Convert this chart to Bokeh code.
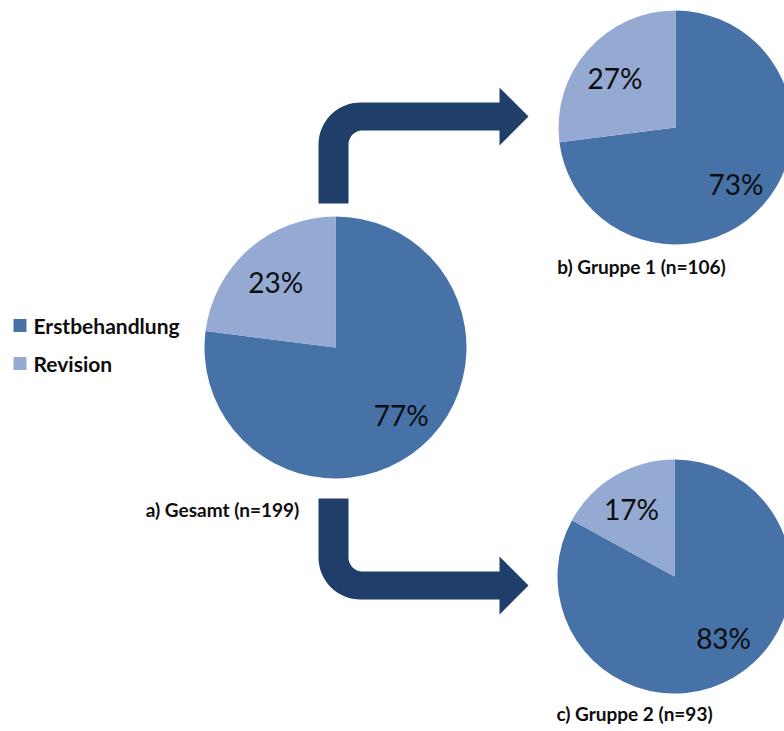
import math
from bokeh.plotting import figure
from bokeh.models import Range1d
from bokeh.core.properties import value
from bokeh.embed import file_html
from bokeh.resources import INLINE

# ---- data ----
categories = ["Erstbehandlung", "Revision"]
gesamt = [77, 23]
gruppe1 = [73, 27]
gruppe2 = [83, 17]
titles = ["a) Gesamt (n=199)", "b) Gruppe 1 (n=106)", "c) Gruppe 2 (n=93)"]

# ---- style / layout ----
W, H = 784, 731
DARK = "#4672a8"
LIGHT = "#94aad2"
ARROW = "#1f3e6a"
FONT = "Lato"
TXT = "#0d0d0d"
colors = [DARK, LIGHT]

def Y(py):
    return H - py

p = figure(width=W, height=H, x_range=Range1d(0, W), y_range=Range1d(0, H),
           output_backend="svg", toolbar_location=None, min_border=0)
p.axis.visible = False
p.grid.visible = False
p.outline_line_color = None
p.background_fill_color = "white"

# (values, centre px, radius, title pos, label nudges per slice)
pies = [
    (gesamt, (335, 347), 131, (222, 509), [(6, 0), (0, 2)]),
    (gruppe1, (675, 127), 117, (641, 266), [(0, 3), (0, 4)]),
    (gruppe2, (674, 576), 117, (634, 713), [(8, -8), (-2, 2)]),
]

for (vals, (cx, cy), r, (tx, ty), nudges), title in zip(pies, titles):
    total = float(sum(vals))
    start = 0.0
    for v, col, (nx, ny) in zip(vals, colors, nudges):
        frac0 = start / total
        frac1 = (start + v) / total
        a0 = math.pi / 2 - 2 * math.pi * frac0
        a1 = math.pi / 2 - 2 * math.pi * frac1
        p.wedge(x=[cx], y=[Y(cy)], radius=r, start_angle=a0, end_angle=a1,
                direction="clock", fill_color=col, line_color=None)
        mid = (a0 + a1) / 2
        d = 0.69 * r
        p.text(x=[cx + d * math.cos(mid) + nx], y=[Y(cy) + d * math.sin(mid) - ny],
               text=[f"{v}%"], text_font=value(FONT), text_font_size="28px",
               text_align="center", text_baseline="middle", text_color=TXT)
        start += v
    p.text(x=[tx], y=[Y(ty)], text=[title], text_font=value(FONT),
           text_font_size="19px", text_font_style="bold", text_align="center",
           text_baseline="middle", text_color=TXT)

# ---- arrows ----
def arrow(stem_end, bar_top, bar_bot, down):
    x0, x1 = 318, 348
    head_x, tip_x = 499, 528
    ro, ri = 42, 14
    pts = []
    n = 16
    if not down:
        pts.append((x0, stem_end))
        cxo, cyo = x0 + ro, bar_top + ro
        for i in range(n + 1):
            a = math.pi + (math.pi / 2) * i / n
            pts.append((cxo + ro * math.cos(a), cyo + ro * math.sin(a)))
        pts += [(head_x, bar_top), (head_x, bar_top - 15), (tip_x, (bar_top + bar_bot) / 2),
                (head_x, bar_bot + 15), (head_x, bar_bot)]
        cxi, cyi = x1 + ri, bar_bot + ri
        for i in range(n + 1):
            a = 1.5 * math.pi - (math.pi / 2) * i / n
            pts.append((cxi + ri * math.cos(a), cyi + ri * math.sin(a)))
        pts.append((x1, stem_end))
    else:
        pts.append((x0, stem_end))
        cxo, cyo = x0 + ro, bar_bot - ro
        for i in range(n + 1):
            a = math.pi - (math.pi / 2) * i / n
            pts.append((cxo + ro * math.cos(a), cyo + ro * math.sin(a)))
        pts += [(head_x, bar_bot), (head_x, bar_bot + 15), (tip_x, (bar_top + bar_bot) / 2),
                (head_x, bar_top - 15), (head_x, bar_top)]
        cxi, cyi = x1 + ri, bar_top - ri
        for i in range(n + 1):
            a = math.pi / 2 + (math.pi / 2) * i / n
            pts.append((cxi + ri * math.cos(a), cyi + ri * math.sin(a)))
        pts.append((x1, stem_end))
    xs = [q[0] for q in pts]
    ys = [Y(q[1]) for q in pts]
    p.patch(xs, ys, fill_color=ARROW, line_color=None)

arrow(203, 102, 130, down=False)
arrow(498, 571, 599, down=True)

# ---- legend ----
leg_y = [325, 363]
for cat, col, ly in zip(categories, colors, leg_y):
    p.rect(x=[19.5], y=[Y(ly)], width=13, height=13, fill_color=col, line_color=None)
    p.text(x=[33], y=[Y(ly)], text=[cat], text_font=value(FONT), text_font_size="21px",
           text_font_style="bold", text_align="left", text_baseline="middle",
           text_color=TXT)

open("out.html", "w").write(file_html(p, INLINE))
